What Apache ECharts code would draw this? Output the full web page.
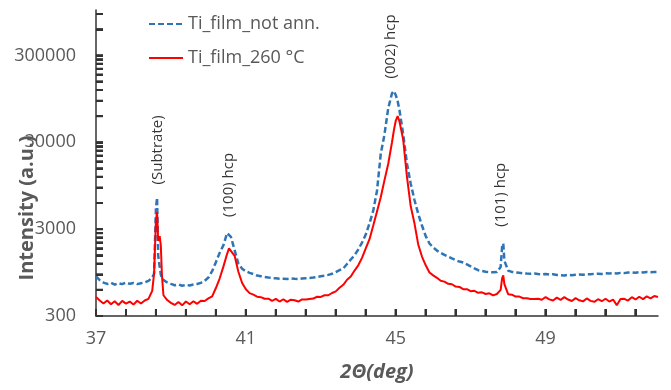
<!DOCTYPE html>
<html><head><meta charset="utf-8">
<script src="https://cdn.jsdelivr.net/npm/echarts@6/dist/echarts.min.js"></script>
<style>html,body{margin:0;padding:0;background:#fff}#c{width:671px;height:390px}</style>
</head><body><div id="c"></div>
<script>
const twoTheta = [
  37.0, 37.1, 37.2, 37.3, 37.4, 37.5, 37.6, 37.7, 37.8, 37.9, 38.0, 38.1, 38.2, 38.3, 38.4, 38.5,
  38.55, 38.6, 38.63, 38.66, 38.7, 38.73, 38.76, 38.8,
  38.9, 39.0, 39.1, 39.2, 39.3, 39.4, 39.5, 39.6, 39.7, 39.8, 39.9, 40.0, 40.1, 40.2, 40.3, 40.4, 40.5,
  40.55,
  40.6, 40.7, 40.8, 40.9, 41.0, 41.1, 41.2, 41.3, 41.4, 41.5,
  41.6, 41.7, 41.8, 41.9, 42.0, 42.1, 42.2, 42.3, 42.4, 42.5,
  42.6, 42.7, 42.8, 42.9, 43.0, 43.1, 43.2, 43.3, 43.4, 43.5,
  43.6, 43.7, 43.8, 43.9, 44.0, 44.1, 44.2, 44.3, 44.4, 44.5,
  44.6, 44.7, 44.8, 44.9,
  44.95, 45.0, 45.05,
  45.1, 45.2, 45.3, 45.4, 45.5, 45.6, 45.7, 45.8, 45.9, 46.0,
  46.1, 46.2, 46.3, 46.4, 46.5, 46.6, 46.7, 46.8, 46.9, 47.0,
  47.1, 47.2, 47.3, 47.4, 47.5, 47.6, 47.7, 47.8,
  47.84, 47.87,
  47.9, 48.0, 48.1, 48.2, 48.3, 48.4, 48.5, 48.6, 48.7, 48.8,
  48.9, 49.0, 49.1, 49.2, 49.3, 49.4, 49.5, 49.6, 49.7, 49.8,
  49.9, 50.0, 50.1, 50.2, 50.3, 50.4, 50.5, 50.6, 50.7, 50.8,
  50.9, 51.0, 51.1, 51.2, 51.3, 51.4, 51.5, 51.6, 51.7, 51.8,
  51.9, 52.0
];
const notAnnealed = [
  860, 775, 728, 702, 722, 688, 716, 698, 727, 704, 721, 699, 716, 731, 762, 830,
  920, 5200, 6900, 1500, 1100, 900, 800, 760,
  730, 702, 678, 692, 668, 686, 674, 692, 701, 722, 762, 832, 985, 1250, 1600, 1950, 2700,
  2780,
  2450, 1720, 1200, 1050, 982, 941, 912, 878, 862, 846,
  832, 821, 814, 806, 804, 799, 811, 804, 798, 810,
  816, 822, 831, 846, 861, 874, 892, 918, 958, 1010,
  1060, 1190, 1340, 1500, 1750, 2100, 2600, 3500, 4900, 8300,
  22000, 37000, 74000, 110000,
  117000, 105000, 90000,
  70000, 37000, 17000, 10000, 6500, 4500, 3300, 2500, 2050, 1850,
  1700, 1600, 1520, 1450, 1380, 1320, 1270, 1240, 1180, 1120,
  1060, 1010, 990, 972, 962, 955, 962, 1100,
  1900, 2050,
  1300, 1000, 966, 955, 942, 931, 924, 918, 924, 912,
  905, 915, 898, 908, 890, 884, 880, 893, 886, 895,
  902, 896, 911, 905, 918, 922, 915, 930, 924, 933,
  928, 941, 935, 948, 955, 944, 958, 952, 963, 957,
  960, 962
];
const annealed260 = [
  495, 452, 418, 452, 410, 444, 402, 448, 416, 440, 406, 450, 418, 452, 472, 585,
  920, 3800, 4700, 2200, 2500, 1950, 880, 520,
  458, 425, 402, 434, 398, 440, 410, 444, 414, 450, 446, 478, 505, 630, 810, 1110, 1560,
  1800,
  1850, 1480, 970, 720, 610, 550, 528, 500, 494, 474,
  475, 448, 472, 440, 468, 436, 462, 455, 440, 466,
  464, 470, 476, 500, 498, 520, 520, 552, 576, 634,
  686, 784, 856, 1000, 1150, 1400, 1800, 2300, 3300, 4800,
  7000, 11000, 17000, 30000,
  41000, 53000, 60000,
  52000, 32000, 12000, 5500, 3500, 2000, 1450, 1150, 950, 880,
  826, 764, 746, 704, 696, 654, 648, 610, 610, 580,
  584, 555, 562, 538, 548, 518, 538, 600,
  820, 880,
  700, 535, 528, 502, 502, 480, 480, 470, 470, 474,
  462, 496, 466, 452, 488, 460, 494, 464, 446, 482,
  455, 442, 478, 448, 437, 468, 444, 474, 440, 464,
  400, 472, 473, 452, 494, 465, 500, 470, 504, 479,
  509, 496
];
const seriesNames = ['Ti_film_not ann.', 'Ti_film_260 °C'];
const xLabelValues = [37, 41, 45, 49];
const xTickValues = [37, 37.8, 38.6, 39.4, 40.2, 41, 41.8, 42.6, 43.4, 44.2, 45, 45.8, 46.6, 47.4, 48.2, 49, 49.8, 50.6, 51.4];
const yLabelValues = [300, 3000, 30000, 300000];
const yTickValues = [300, 600, 900, 1200, 1500, 1800, 2100, 2400, 2700,
  3000, 6000, 9000, 12000, 15000, 18000, 21000, 24000, 27000,
  30000, 60000, 90000, 120000, 150000, 180000, 210000, 240000, 270000,
  300000, 600000, 900000];
const peakLabels = ['(Subtrate)', '(100) hcp', '(002) hcp', '(101) hcp'];
const peakLabelX = [38.65, 40.55, 44.87, 47.8];
const peakLabelY = [24500, 9700, 381000, 7460];

const FONT = '"Open Sans", "Liberation Sans", sans-serif';
const GRAY = '#595959';
const TICK = '#333333';
const X_MIN = 37, X_MAX = 52, Y_MIN = 300, Y_MAX = 1000000;

function tickSeries(points, dx, dy) {
  return {
    type: 'custom', clip: false, z: 10,
    data: points,
    renderItem: function (params, api) {
      const p = api.coord([api.value(0), api.value(1)]);
      return {type: 'line', shape: {x1: p[0], y1: p[1], x2: p[0] + dx, y2: p[1] + dy},
        style: {stroke: TICK, lineWidth: 2}};
    }
  };
}

const chart = echarts.init(document.getElementById('c'));
chart.setOption({
  animation: false,
  textStyle: {fontFamily: FONT},
  grid: {left: 96, right: 13, top: 10, bottom: 74},
  legend: {
    orient: 'vertical', left: 143, top: 10, itemWidth: 34, itemHeight: 18, itemGap: 16,
    data: seriesNames,
    itemStyle: {opacity: 0},
    textStyle: {color: GRAY, fontSize: 18, fontFamily: FONT}
  },
  xAxis: {
    type: 'value', min: X_MIN, max: X_MAX,
    name: '2Θ(deg)', nameLocation: 'middle', nameGap: 46,
    nameTextStyle: {color: GRAY, fontSize: 20, fontWeight: 'bold', fontStyle: 'italic', fontFamily: FONT},
    axisLine: {show: true, lineStyle: {color: TICK, width: 1.5}},
    axisTick: {show: true, inside: true, length: 7, customValues: xTickValues, lineStyle: {color: TICK, width: 2}},
    axisLabel: {show: true, customValues: xLabelValues, color: GRAY, fontSize: 18, margin: 14, fontFamily: FONT,
      formatter: function (v) { return String(Math.round(v)); }},
    splitLine: {show: false}
  },
  yAxis: {
    type: 'log', min: Y_MIN, max: Y_MAX,
    axisLine: {show: true, lineStyle: {color: TICK, width: 1.5}},
    axisTick: {show: true, inside: true, length: 7, customValues: yTickValues, lineStyle: {color: TICK, width: 2}},
    axisLabel: {show: true, customValues: yLabelValues, color: GRAY, fontSize: 18, margin: 20, fontFamily: FONT,
      formatter: function (v) { return String(Math.round(v)); }},
    splitLine: {show: false}
  },
  series: [
    {
      name: seriesNames[0], type: 'line', symbol: 'none', showSymbol: false,
      data: twoTheta.map((x, i) => [x, notAnnealed[i]]),
      lineStyle: {color: '#2e75b6', width: 2.5, type: [6, 3]},
      itemStyle: {color: '#2e75b6'}, z: 2
    },
    {
      name: seriesNames[1], type: 'line', symbol: 'none', showSymbol: false,
      data: twoTheta.map((x, i) => [x, annealed260[i]]),
      lineStyle: {color: '#ff0000', width: 2},
      itemStyle: {color: '#ff0000'}, z: 3
    },
    {
      type: 'scatter', symbolSize: 0, silent: true, z: 5,
      data: peakLabels.map((t, i) => ({name: t, value: [peakLabelX[i], peakLabelY[i]]})),
      label: {show: true, position: 'inside', formatter: '{b}', rotate: 90, color: '#000',
        fontSize: 15, fontFamily: FONT, align: 'center', verticalAlign: 'middle'}
    },
    tickSeries(xTickValues.map(v => [v, Y_MIN]), 0, -7),
    tickSeries(yTickValues.map(v => [X_MIN, v]), 7, 0)
  ]
});

const graphics = [{
  type: 'text', x: 27, y: 208, rotation: Math.PI / 2, z: 100,
  style: {text: 'Intensity (a.u.)', fill: GRAY, font: 'bold 20px ' + FONT,
    textAlign: 'center', textVerticalAlign: 'middle', align: 'center', verticalAlign: 'middle'}
}];
xTickValues.forEach(function (v) {
  const p = chart.convertToPixel({gridIndex: 0}, [v, Y_MIN]);
  if (p && isFinite(p[0]) && isFinite(p[1])) {
    graphics.push({type: 'line', z: 100, silent: true,
      shape: {x1: p[0], y1: p[1], x2: p[0], y2: p[1] - 7}, style: {stroke: TICK, lineWidth: 2}});
  }
});
yTickValues.forEach(function (v) {
  const p = chart.convertToPixel({gridIndex: 0}, [X_MIN, v]);
  if (p && isFinite(p[0]) && isFinite(p[1])) {
    graphics.push({type: 'line', z: 100, silent: true,
      shape: {x1: p[0], y1: p[1], x2: p[0] + 7, y2: p[1]}, style: {stroke: TICK, lineWidth: 2}});
  }
});
chart.setOption({graphic: graphics});
</script></body></html>
